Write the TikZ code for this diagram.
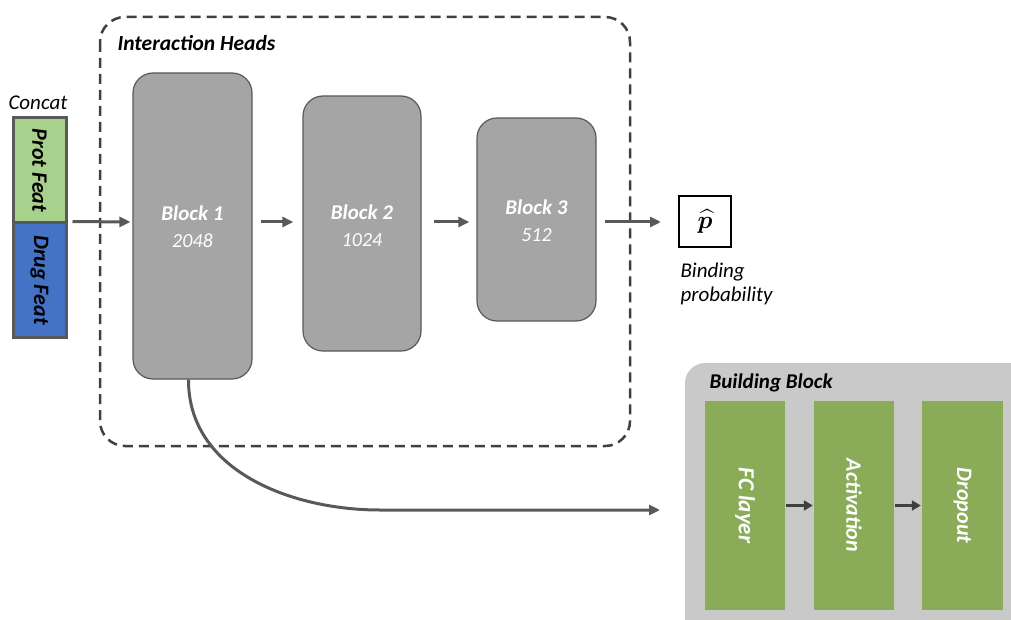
\documentclass[tikz,border=0pt]{standalone}
\usepackage{amsmath}
\usepackage{bm}
\usepackage{fontspec}
\setmainfont{Carlito}
\usetikzlibrary{arrows.meta}
\definecolor{blockgray}{HTML}{A5A5A5}
\definecolor{edgegray}{HTML}{595959}
\definecolor{dashgray}{HTML}{404040}
\definecolor{protgreen}{HTML}{A9D18E}
\definecolor{drugblue}{HTML}{4472C4}
\definecolor{bbgray}{HTML}{C9C9C9}
\definecolor{layergreen}{HTML}{8AAB58}
\tikzset{
  head/.style={draw=edgegray, line width=1.2pt, fill=blockgray, rounded corners=20pt, inner sep=0pt},
  headtext/.style={text=white, align=center, font=\fontsize{21}{27}\selectfont},
  featbox/.style={draw=edgegray, line width=3pt, inner sep=0pt, minimum width=53pt},
  layerbox/.style={fill=layergreen, inner sep=0pt, minimum width=80pt, minimum height=209pt},
  arr/.style={draw=edgegray, line width=3pt, -{Triangle[length=11pt,width=10pt]}},
  darr/.style={draw=dashgray, line width=3.5pt, -{Triangle[length=9pt,width=10pt]}},
  bi/.style={font=\fontsize{22}{26}\selectfont\bfseries\itshape},
  it/.style={font=\fontsize{21}{24}\selectfont\itshape},
}
\begin{document}
\begin{tikzpicture}[x=1pt,y=-1pt]
\useasboundingbox (0,0) rectangle (1011,620);
\clip (0,0) rectangle (1011,620);
% interaction heads frame
\draw[draw=dashgray, line width=2.5pt, dash pattern=on 10pt off 6pt, rounded corners=25pt]
  (100,17) rectangle (630,446);
\node[bi, anchor=west, font=\fontsize{21.5}{26}\selectfont\bfseries\itshape] (ihlabel) at (114,43) {Interaction Heads};
% concat input
\node[it] (concat) at (38,103) {Concat};
\node[featbox, fill=protgreen, minimum height=105pt] (prot) at (39.5,170.5) {};
\node[featbox, fill=drugblue, minimum height=114pt] (drug) at (39.5,280) {};
\node[bi, rotate=-90] (protlabel) at (prot.center) {Prot Feat};
\node[bi, rotate=-90] (druglabel) at (drug.center) {Drug Feat};
% blocks
\node[head, minimum width=119pt, minimum height=306pt] (b1) at (192.5,226) {};
\node[head, minimum width=118pt, minimum height=255pt] (b2) at (362,223.5) {};
\node[head, minimum width=119pt, minimum height=203pt] (b3) at (536.5,219.5) {};
\node[headtext] (b1t) at (192.5,227) {\bfseries\itshape Block 1\\{\fontsize{20}{27}\selectfont\itshape 2048}};
\node[headtext] (b2t) at (362,226) {\bfseries\itshape Block 2\\{\fontsize{20}{27}\selectfont\itshape 1024}};
\node[headtext] (b3t) at (536.5,221) {\bfseries\itshape Block 3\\{\fontsize{20}{27}\selectfont\itshape 512}};
% output
\node[draw=black, line width=2pt, minimum width=52pt, minimum height=51pt, inner sep=0pt] (phat) at (705,221.5) {\fontsize{26}{30}\selectfont$\widehat{\bm{p}}$};
\node[it, align=left, anchor=north west] (bind) at (677,259) {Binding\\probability};
\coordinate (mid) at (0,222);
% arrows
\draw[arr, shorten <=5pt, shorten >=2pt] (drug.north east) -- (b1.west |- mid);
\draw[arr, shorten <=8pt, shorten >=9pt] (b1.east |- mid) -- (b2.west |- mid);
\draw[arr, shorten <=12pt, shorten >=7pt] (b2.east |- mid) -- (b3.west |- mid);
\draw[arr, shorten <=8pt, shorten >=17pt] (b3.east |- mid) -- (phat.west |- mid);
% building block
\fill[bbgray, rounded corners=20pt] (685,363) rectangle (1040,650);
\node[bi, anchor=west, font=\fontsize{21}{24}\selectfont\bfseries\itshape] (bblabel) at (706,383) {Building Block};
\node[layerbox] (fc) at (745,505.5) {};
\node[layerbox] (act) at (854,505.5) {};
\node[layerbox, minimum width=81pt] (drop) at (962.5,505.5) {};
\node[bi, text=white, rotate=-90, font=\fontsize{23}{26}\selectfont\bfseries\itshape] (fct) at (fc.center) {FC layer};
\node[bi, text=white, rotate=-90] (actt) at (act.center) {Activation};
\node[bi, text=white, rotate=-90] (dropt) at (drop.center) {Dropout};
\draw[darr, shorten <=1pt, shorten >=1pt] (fc.east) -- (act.west);
\draw[darr, shorten <=1pt, shorten >=1pt] (act.east) -- (drop.west);
% curve to building block
\coordinate (bbin) at (660,510);
\draw[arr] ([xshift=-4pt]b1.south) .. controls (188,470) and (290,510) .. (380,510) -- (bbin);
\end{tikzpicture}
\end{document}
